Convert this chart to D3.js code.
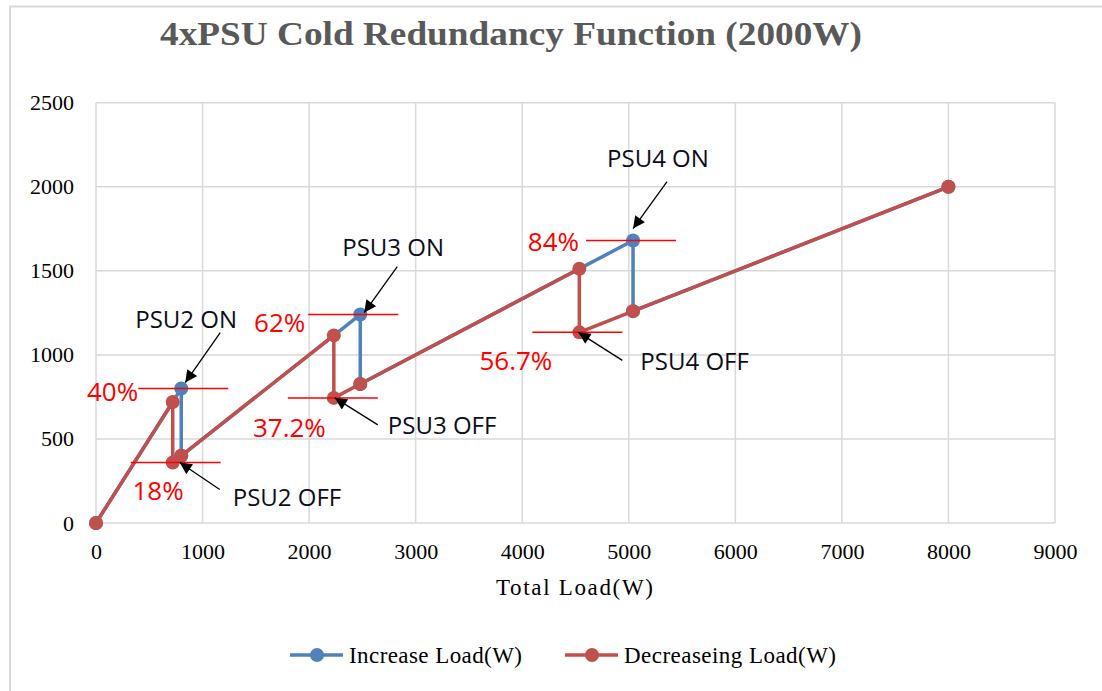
<html>
<head>
<meta charset="utf-8">
<title>4xPSU Cold Redundancy Function</title>
<style>
  body { margin: 0; background: #fff; }
  svg { display: block; }
  .tick text { font: 22px "Liberation Serif", serif; fill: #000; }
  .serif { font-family: "Liberation Serif", serif; }
  .note { font-family: "Open Sans", sans-serif; font-size: 24px; }
  .pct { font-family: "Open Sans", sans-serif; font-size: 26px; }
</style>
</head>
<body>
<svg id="chart" width="1102" height="691"></svg>
<script src="https://cdn.jsdelivr.net/npm/d3@7"></script>
<script>
// series
var increaseX = [0, 800, 800, 2480, 2480, 5040, 5040, 8000];
var increaseY = [0, 800, 400, 1240, 827, 1680, 1260, 2000];
var decreaseX = [8000, 5040, 4536, 4536, 2480, 2232, 2232, 800, 720, 720, 0];
var decreaseY = [2000, 1260, 1134, 1512, 827, 744, 1116, 400, 360, 720, 0];

var seriesNames = ["Increase Load(W)", "Decreaseing Load(W)"];
var xTicks = [0, 1000, 2000, 3000, 4000, 5000, 6000, 7000, 8000, 9000];
var yTicks = [0, 500, 1000, 1500, 2000, 2500];

// switching thresholds: percent label at a point
var pctLabels = ["40%", "18%", "62%", "37.2%", "84%", "56.7%"];
var pctX = [800, 720, 2480, 2232, 5040, 4536];
var pctY = [800, 360, 1240, 744, 1680, 1134];

var psuLabels = ["PSU2 ON", "PSU2 OFF", "PSU3 ON", "PSU3 OFF", "PSU4 ON", "PSU4 OFF"];
var psuX = [800, 720, 2480, 2232, 5040, 4536];
var psuY = [800, 360, 1240, 744, 1680, 1134];

// pixel offsets for the annotations, relative to their point
var pctLayout = [
  {lx: 2, tx: -43, ty: 12}, {lx: 3, tx: 11, ty: 38}, {lx: -7, tx: -55, ty: 17},
  {lx: -1, tx: -8, ty: 39}, {lx: -2, tx: -54, ty: 10}, {lx: -2, tx: -27, ty: 38}
];
var psuLayout = [
  {tx: -46, ty: -61, ax: 39, ay: -56, bx: 4, by: -6},
  {tx: 60, ty: 44, ax: 47, ay: 27, bx: 7, by: 0},
  {tx: -18, ty: -59, ax: 37, ay: -48, bx: 4, by: -2},
  {tx: 54, ty: 36, ax: 44, ay: 27, bx: 1, by: 0},
  {tx: -26, ty: -74, ax: 34, ay: -59, bx: 0, by: -12},
  {tx: 61, ty: 38, ax: 43, ay: 28, bx: -1, by: 0}
];

var blue = "#4f81bd", red = "#c0504d", grid = "#d9d9d9";
var margin = {left: 96, right: 1055, top: 102.7, bottom: 523};

var svg = d3.select("#chart");

// chart area border (only top and left show in the crop)
svg.append("path")
  .attr("d", "M10,691V6.5H1102")
  .attr("fill", "none").attr("stroke", grid).attr("stroke-width", 2);

var x = d3.scaleLinear().domain([0, 9000]).range([margin.left, margin.right]);
var y = d3.scaleLinear().domain([0, 2500]).range([margin.bottom, margin.top]);

// grid
svg.append("g").selectAll("line").data(xTicks).join("line")
  .attr("x1", d => x(d)).attr("x2", d => x(d))
  .attr("y1", margin.top).attr("y2", margin.bottom)
  .attr("stroke", grid).attr("stroke-width", 1.5);
svg.append("g").selectAll("line").data(yTicks).join("line")
  .attr("x1", margin.left).attr("x2", margin.right)
  .attr("y1", d => y(d)).attr("y2", d => y(d))
  .attr("stroke", grid).attr("stroke-width", 1.5);

// axes (labels only)
var xAxis = svg.append("g")
  .attr("transform", "translate(0," + margin.bottom + ")")
  .call(d3.axisBottom(x).tickValues(xTicks).tickFormat(d3.format("d")).tickSize(0).tickPadding(20));
xAxis.select(".domain").remove();
var yAxis = svg.append("g")
  .attr("transform", "translate(" + margin.left + ",0)")
  .call(d3.axisLeft(y).tickValues(yTicks).tickFormat(d3.format("d")).tickSize(0).tickPadding(22));
yAxis.select(".domain").remove();

svg.append("text").attr("class", "serif")
  .attr("x", 160).attr("y", 45)
  .attr("textLength", 702).attr("lengthAdjust", "spacingAndGlyphs")
  .attr("font-size", 33).attr("font-weight", "bold").attr("fill", "#595959")
  .text("4xPSU Cold Redundancy  Function (2000W)");

svg.append("text").attr("class", "serif")
  .attr("x", 496).attr("y", 595)
  .attr("textLength", 157).attr("lengthAdjust", "spacing")
  .attr("font-size", 23).attr("fill", "#000")
  .text("Total  Load(W)");

// series
var incData = increaseX.map((v, i) => [v, increaseY[i]]);
var decData = decreaseX.map((v, i) => [v, decreaseY[i]]);
var line = d3.line().x(d => x(d[0])).y(d => y(d[1]));

svg.append("path").datum(incData)
  .attr("d", line).attr("fill", "none")
  .attr("stroke", blue).attr("stroke-width", 3.5).attr("stroke-linejoin", "round");
svg.append("g").selectAll("circle").data(incData).join("circle")
  .attr("cx", d => x(d[0])).attr("cy", d => y(d[1])).attr("r", 7).attr("fill", blue);

svg.append("path").datum(decData)
  .attr("d", line).attr("fill", "none")
  .attr("stroke", red).attr("stroke-width", 3.5).attr("stroke-linejoin", "round");
svg.append("g").selectAll("circle").data(decData).join("circle")
  .attr("cx", d => x(d[0])).attr("cy", d => y(d[1])).attr("r", 7).attr("fill", red);

// red threshold lines and percent labels
var pct = svg.append("g");
pctLabels.forEach((t, i) => {
  var px = x(pctX[i]), py = y(pctY[i]), L = pctLayout[i];
  pct.append("line")
    .attr("x1", px + L.lx - 45).attr("x2", px + L.lx + 45)
    .attr("y1", py).attr("y2", py)
    .attr("stroke", "#ff0000").attr("stroke-width", 1.5);
  pct.append("text").attr("class", "pct")
    .attr("x", px + L.tx).attr("y", py + L.ty)
    .attr("text-anchor", "end").attr("fill", "#ff0000")
    .text(t);
});

// PSU arrows
svg.append("defs").append("marker")
  .attr("id", "head").attr("viewBox", "0 0 10 10")
  .attr("refX", 10).attr("refY", 5)
  .attr("markerWidth", 14).attr("markerHeight", 12)
  .attr("markerUnits", "userSpaceOnUse").attr("orient", "auto")
  .append("path").attr("d", "M0,0L10,5L0,10Z").attr("fill", "#000");

var psu = svg.append("g");
psuLabels.forEach((t, i) => {
  var px = x(psuX[i]), py = y(psuY[i]), L = psuLayout[i];
  psu.append("line")
    .attr("x1", px + L.ax).attr("y1", py + L.ay)
    .attr("x2", px + L.bx).attr("y2", py + L.by)
    .attr("stroke", "#000").attr("stroke-width", 1.3)
    .attr("marker-end", "url(#head)");
  psu.append("text").attr("class", "note")
    .attr("x", px + L.tx).attr("y", py + L.ty)
    .attr("fill", "#0d0d1a")
    .text(t);
});

// legend
var legend = svg.append("g").selectAll("g")
  .data([{name: seriesNames[0], c: blue, x: 290, w: 173}, {name: seriesNames[1], c: red, x: 565, w: 212}])
  .join("g").attr("transform", d => "translate(" + d.x + ",655)");
legend.append("line").attr("x1", 0).attr("x2", 53)
  .attr("stroke", d => d.c).attr("stroke-width", 3.5);
legend.append("circle").attr("cx", 27).attr("r", 7).attr("fill", d => d.c);
legend.append("text").attr("class", "serif")
  .attr("x", 59).attr("dy", "0.33em")
  .attr("textLength", d => d.w).attr("lengthAdjust", "spacing")
  .attr("font-size", 23).attr("fill", "#000")
  .text(d => d.name);
</script>
</body>
</html>
